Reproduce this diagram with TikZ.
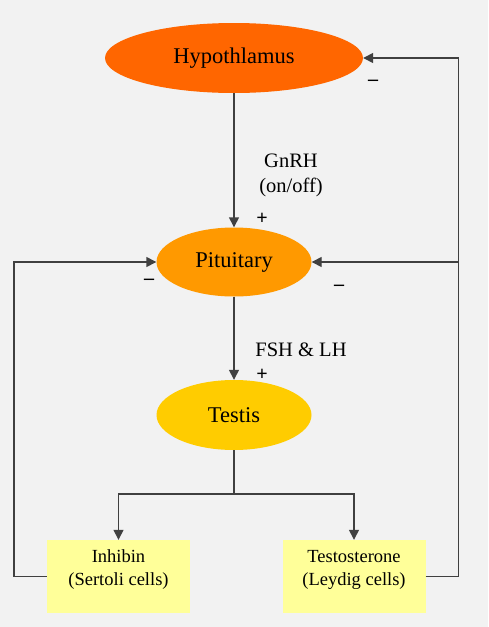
\documentclass[tikz,border=0pt]{standalone}
\usepackage{fontspec}
\setmainfont{Liberation Serif}
\usepackage{tikz}
\usetikzlibrary{shapes.geometric}
\usetikzlibrary{arrows.meta}
\usepackage{xcolor}
\definecolor{bggray}{HTML}{F2F2F2}
\definecolor{hypcol}{HTML}{FF6600}
\definecolor{pitcol}{HTML}{FF9900}
\definecolor{tescol}{HTML}{FFCC00}
\definecolor{cellcol}{HTML}{FFFF99}
\definecolor{wiregray}{HTML}{404040}
\newcommand{\lowstrut}{\rule[-17pt]{0pt}{17pt}}

\begin{document}
\begin{tikzpicture}[x=1pt,y=-1pt,
gland/.style={ellipse,inner sep=0pt,font=\fontsize{22.5}{26}\selectfont},
cellbox/.style={rectangle,fill=cellcol,minimum width=143pt,minimum height=73pt,
  align=center,font=\fontsize{18.5}{23}\selectfont},
sign/.style={font=\fontsize{20}{24}\selectfont\bfseries,inner sep=0pt},
hormone/.style={align=center,font=\fontsize{20.5}{25}\selectfont},
wire/.style={draw=wiregray,line width=1.4pt},
feed/.style={wire,-{Triangle[length=10pt,width=10pt]}}]
%\tikzstyle{every node}=[draw]

\fill[bggray] (0,0) rectangle (488,627);

\node (hyp) [gland,fill=hypcol,minimum width=258pt,minimum height=70pt] at (234,58) {Hypothlamus};
\node (pit) [gland,fill=pitcol,minimum width=155pt,minimum height=69pt] at (234,262) {Pituitary};
\node (testis) [gland,fill=tescol,minimum width=155pt,minimum height=70pt] at (234,415) {Testis};
\node (inh) [cellbox] at (118.5,576.5) {Inhibin\\(Sertoli cells)\lowstrut};
\node (testo) [cellbox] at (354,576.5) {Testosterone\\(Leydig cells)\lowstrut};

\coordinate (split) at (234,494);
\coordinate (rbranch) at (458,262);

% forward chain
\draw[feed] (hyp) -- (pit);
\draw[feed] (pit) -- (testis);
\draw[wire] (testis) -- (split);
\draw[feed] (split) -| (inh);
\draw[feed] (split) -| (testo);

% feedback loops
\draw[feed] (inh.west) -- ++(-33,0) |- (pit);
\draw[feed] (testo.east) -- ++(33,0) |- (hyp);
\draw[feed] (rbranch) -- (pit);

\node (gnrh) [hormone] at (291,175) {GnRH\\(on/off)};
\node (fshlh) [hormone] at (301,350) {FSH \& LH};
\node (p1) [sign] at (262,219) {+};
\node (p2) [sign] at (262,375) {+};
\node (m1) [sign] at (373,83) {--};
\node (m2) [sign] at (149,282) {--};
\node (m3) [sign] at (339,288) {--};
\end{tikzpicture}
\end{document}
